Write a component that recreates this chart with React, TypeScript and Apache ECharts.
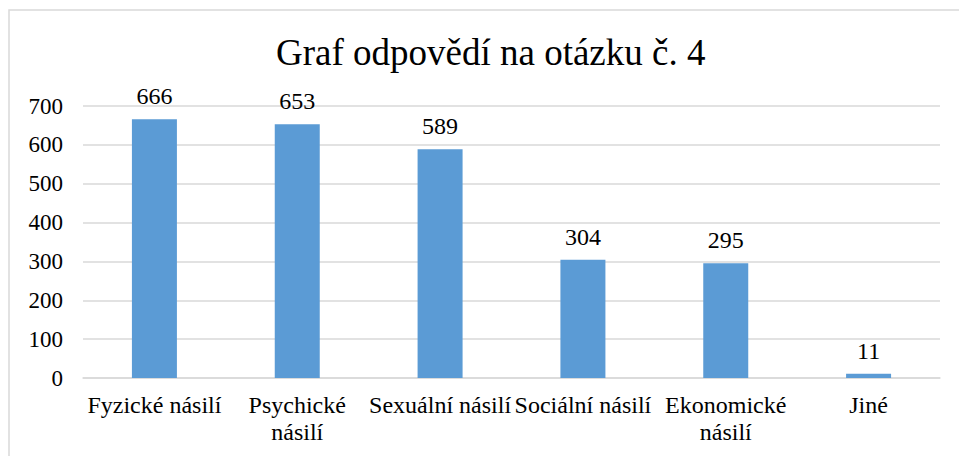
import React, { useEffect, useRef } from "react";
import * as echarts from "echarts";

const title = "Graf odpovědí na otázku č. 4";
const categories = [
  "Fyzické násilí",
  "Psychické\nnásilí",
  "Sexuální násilí",
  "Sociální násilí",
  "Ekonomické\nnásilí",
  "Jiné",
];
const values = [666, 653, 589, 304, 295, 11];
const yTicks = { min: 0, max: 700, interval: 100 };

const FONT = "'Liberation Serif', 'Times New Roman', serif";

export default function App() {
  const ref = useRef<HTMLDivElement>(null);
  useEffect(() => {
    if (!ref.current) return;
    const chart = echarts.init(ref.current, null, { renderer: "svg" });
    chart.setOption({
      animation: false,
      backgroundColor: "#ffffff",
      textStyle: { fontFamily: FONT },
      title: {
        text: title,
        left: 271,
        top: 29,
        textStyle: { fontFamily: FONT, fontSize: 37, fontWeight: "normal", color: "#000" },
      },
      graphic: [
        {
          type: "rect",
          shape: { x: 9, y: 10, width: 970, height: 470 },
          style: { fill: "none", stroke: "#d9d9d9", lineWidth: 1.5 },
          silent: true,
        },
      ],
      grid: { left: 83, right: 19, top: 106, bottom: 78 },
      xAxis: {
        type: "category",
        data: categories,
        axisLine: { lineStyle: { color: "#d9d9d9", width: 1.5 } },
        axisTick: { show: false },
        axisLabel: {
          interval: 0,
          fontFamily: FONT,
          fontSize: 24,
          color: "#000",
          margin: 13,
          lineHeight: 27,
        },
      },
      yAxis: {
        type: "value",
        min: yTicks.min,
        max: yTicks.max,
        interval: yTicks.interval,
        axisLine: { show: false },
        axisTick: { show: false },
        splitLine: { lineStyle: { color: "#d9d9d9", width: 1.5 } },
        axisLabel: { fontFamily: FONT, fontSize: 23, color: "#000", margin: 20 },
      },
      series: [
        {
          type: "bar",
          data: values,
          barWidth: 45,
          itemStyle: { color: "#5B9BD5" },
          label: {
            show: true,
            position: "top",
            distance: 11,
            fontFamily: FONT,
            fontSize: 24,
            color: "#000",
          },
        },
      ],
    });
    return () => chart.dispose();
  }, []);
  return (
    <div
      ref={ref}
      style={{ position: "fixed", left: 0, top: 0, width: 959, height: 456 }}
    />
  );
}
